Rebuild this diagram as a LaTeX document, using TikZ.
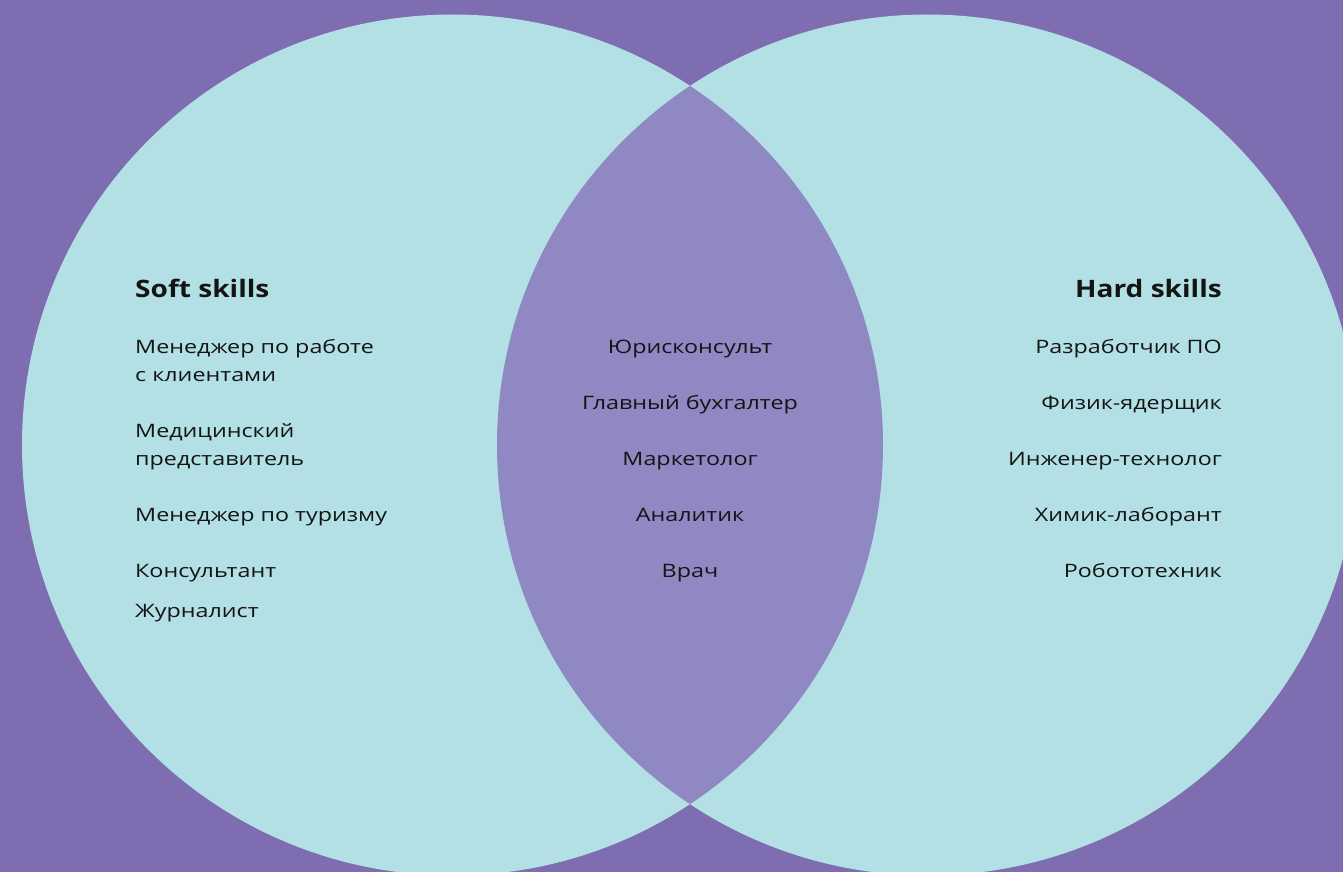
\documentclass[tikz,border=0pt]{standalone}
\usepackage{fontspec}
\setmainfont[FakeStretch=1.26]{Open Sans}
\newfontfamily\headfont[FakeStretch=1.17]{Open Sans}
\definecolor{bgpurple}{HTML}{7E6DB0}
\definecolor{circ}{HTML}{B3E0E5}
\definecolor{lens}{HTML}{8F88C2}
\definecolor{ink}{HTML}{141414}
\begin{document}
\begin{tikzpicture}[x=1pt,y=-1pt,
  item/.style={inner sep=0pt,text=ink,font=\fontsize{18.5}{24}\selectfont},
  head/.style={inner sep=0pt,text=ink,font=\headfont\fontsize{24}{28}\selectfont\bfseries}]
\useasboundingbox (0,0) rectangle (1343,872);
\fill[bgpurple] (0,0) rectangle (1343,872);
\begin{scope}
\clip (0,0) rectangle (1343,872);
\fill[circ] (452.5,445) circle[radius=430.5];
\fill[circ] (927.5,445) circle[radius=430.5];
\begin{scope}
\clip (452.5,445) circle[radius=430.5];
\fill[lens] (927.5,445) circle[radius=430.5];
\end{scope}
\end{scope}
% left column
\node[head,anchor=base west] (soft) at (135,297) {Soft skills};
\node[item,anchor=base west] (l1) at (135,353) {Менеджер по работе};
\node[item,anchor=base west] (l1b) at (135,381) {с клиентами};
\node[item,anchor=base west] (l2) at (135,437) {Медицинский};
\node[item,anchor=base west] (l2b) at (135,465) {представитель};
\node[item,anchor=base west] (l3) at (135,521) {Менеджер по туризму};
\node[item,anchor=base west] (l4) at (135,577) {Консультант};
\node[item,anchor=base west] (l5) at (135,617) {Журналист};
% middle column
\node[item,anchor=base] (m1) at (690,353) {Юрисконсульт};
\node[item,anchor=base] (m2) at (690,409) {Главный бухгалтер};
\node[item,anchor=base] (m3) at (690,465) {Маркетолог};
\node[item,anchor=base] (m4) at (690,521) {Аналитик};
\node[item,anchor=base] (m5) at (690,577) {Врач};
% right column
\node[head,anchor=base east] (hard) at (1222,297) {Hard skills};
\node[item,anchor=base east] (r1) at (1222,353) {Разработчик ПО};
\node[item,anchor=base east] (r2) at (1222,409) {Физик-ядерщик};
\node[item,anchor=base east] (r3) at (1222,465) {Инженер-технолог};
\node[item,anchor=base east] (r4) at (1222,521) {Химик-лаборант};
\node[item,anchor=base east] (r5) at (1222,577) {Робототехник};
\end{tikzpicture}
\end{document}
